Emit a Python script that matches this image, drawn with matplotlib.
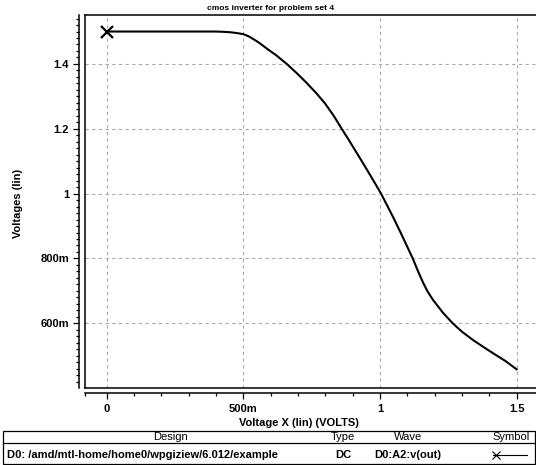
import matplotlib
matplotlib.use("Agg")
from matplotlib import pyplot as plt
from matplotlib.lines import Line2D
from matplotlib.patches import Rectangle
from matplotlib.ticker import FixedLocator, FixedFormatter, MultipleLocator

plt.rcParams['font.family'] = ['Liberation Sans', 'DejaVu Sans']
plt.rcParams['font.weight'] = 'bold'

# DC sweep: v(in) vs v(out)
vin = [0, 0.1, 0.2, 0.3, 0.4, 0.43, 0.45, 0.47, 0.5, 0.52, 0.54, 0.56, 0.585, 0.62, 0.659, 0.70,
       0.73, 0.768, 0.80, 0.83, 0.86, 0.89, 0.927, 0.965, 1.004, 1.049, 1.08, 1.12, 1.14, 1.158,
       1.175, 1.195, 1.23, 1.266, 1.30, 1.341, 1.38, 1.415, 1.46, 1.5]
vout = [1.5, 1.5, 1.5, 1.5, 1.5, 1.499, 1.498, 1.496, 1.492, 1.485, 1.475, 1.464, 1.448, 1.427, 1.4,
        1.368, 1.343, 1.309, 1.277, 1.241, 1.2, 1.16, 1.109, 1.056, 1.0, 0.926, 0.872, 0.8, 0.759,
        0.725, 0.697, 0.671, 0.633, 0.6, 0.574, 0.548, 0.526, 0.507, 0.483, 0.458]

x_ticks = [0, 0.5, 1, 1.5]
x_tick_labels = ["0", "500m", "1", "1.5"]
y_ticks = [0.6, 0.8, 1.0, 1.2, 1.4]
y_tick_labels = ["600m", "800m", "1", "1.2", "1.4"]
x_range = (-0.0794, 1.571)
y_range = (0.4012, 1.551)

title = "cmos inverter for problem set 4"
x_label = "Voltage X (lin) (VOLTS)"
y_label = "Voltages (lin)"
table_header = ["Design", "Type", "Wave", "Symbol"]
table_row = ["D0: /amd/mtl-home/home0/wpgiziew/6.012/example", "DC", "D0:A2:v(out)"]

W, H = 536, 465


def fx(px):
    return px / W


def fy(py):
    return 1 - py / H


fig = plt.figure(figsize=(W / 100, H / 100), dpi=100)
ax = fig.add_axes([fx(85), fy(387.7), fx(W - 85), (387.7 - 15) / H])

ax.plot(vin, vout, color='black', linewidth=1.5)
ax.plot(vin[:1], vout[:1], marker='x', color='black', markersize=8, markeredgewidth=1.6, linestyle='none')

ax.set_xlim(*x_range)
ax.set_ylim(*y_range)

ax.tick_params(which='major', length=4.5, width=0.9, color='black', labelsize=8, pad=3)
ax.tick_params(which='minor', length=2.3, width=0.9, color='black')

ax.xaxis.set_major_locator(FixedLocator(x_ticks))
ax.xaxis.set_major_formatter(FixedFormatter(x_tick_labels))
ax.xaxis.set_minor_locator(FixedLocator([x_range[0]] + [i / 10 for i in range(1, 16) if i % 5]))
ax.yaxis.set_major_locator(FixedLocator(y_ticks))
ax.yaxis.set_major_formatter(FixedFormatter(y_tick_labels))
ax.yaxis.set_minor_locator(MultipleLocator(0.02))

ax.spines['right'].set_visible(False)
ax.spines['left'].set_position(('outward', 4))
ax.spines['bottom'].set_position(('outward', 4))
for s in ['left', 'bottom', 'top']:
    ax.spines[s].set_linewidth(1.1)

# inner frame lines (left and bottom of the plotting box)
ax.plot([0, 0], [0, 1], transform=ax.transAxes, color='black', linewidth=1.1, clip_on=False)
ax.plot([0, 1], [0, 0], transform=ax.transAxes, color='black', linewidth=1.1, clip_on=False)

ax.grid(True, which='major', color='#aaaaaa', linestyle=(0, (3, 3)), linewidth=0.8)

fig.text(fx(271), fy(8), title, ha='center', va='center', fontsize=6)
fig.text(fx(299), fy(423), x_label, ha='center', va='center', fontsize=8)
fig.text(fx(18), fy(203), y_label, ha='center', va='center', rotation=90, fontsize=8)

# legend table
fig.add_artist(Rectangle((fx(3), fy(464)), fx(532), (464 - 431) / H, transform=fig.transFigure,
                         fill=False, edgecolor='black', linewidth=0.9))
fig.add_artist(Line2D([fx(3), fx(535)], [fy(443), fy(443)], transform=fig.transFigure,
                      color='black', linewidth=0.9))
header_x = [170, 343, 408, 511]
for label, px in zip(table_header, header_x):
    fig.text(fx(px), fy(437), label, ha='center', va='center', fontsize=8, fontweight='normal')
fig.text(fx(7), fy(455), table_row[0], ha='left', va='center', fontsize=8)
fig.text(fx(343), fy(455), table_row[1], ha='center', va='center', fontsize=8)
fig.text(fx(408), fy(455), table_row[2], ha='center', va='center', fontsize=8)
fig.add_artist(Line2D([fx(493), fx(527)], [fy(455), fy(455)], transform=fig.transFigure,
                      color='black', linewidth=0.8))
fig.add_artist(Line2D([fx(496)], [fy(455)], transform=fig.transFigure, marker='x', color='black',
                      markersize=6, markeredgewidth=0.8))

fig.savefig("out.png", dpi=100)
